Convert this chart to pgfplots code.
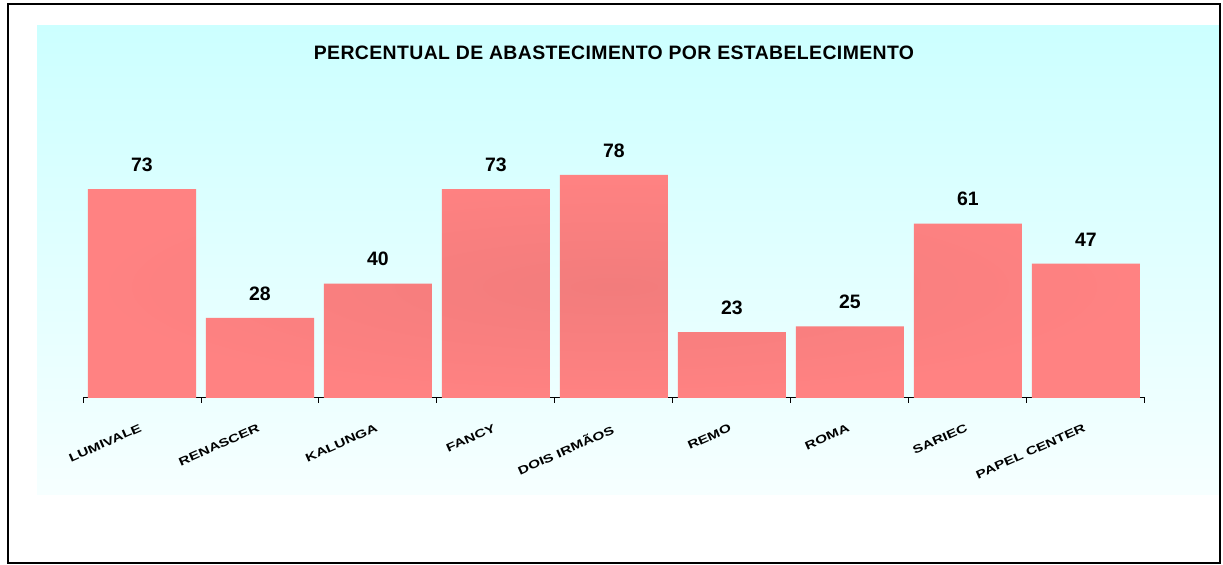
\documentclass[border=0pt]{standalone}
\usepackage{pgfplots}
\pgfplotsset{compat=1.18}
\usepackage{fontspec}
\setmainfont{Liberation Sans}
\definecolor{barfill}{RGB}{255,130,130}
\definecolor{barin}{RGB}{242,124,124}
\definecolor{panTop}{RGB}{204,255,255}
\definecolor{panBot}{RGB}{246,255,255}
\newcommand{\lab}[1]{\scalebox{1.35}[1]{#1}}
\begin{document}
\begin{tikzpicture}[x=1bp,y=1bp]
\useasboundingbox (0,0) rectangle (1223,565);
\fill[white] (0,0) rectangle (1223,565);
\shade[top color=panTop, bottom color=panBot] (37,70) rectangle (1219,539);
\draw[black, line width=2bp] (8,2) rectangle (1220,561);
\node[font=\fontsize{19.5}{21}\selectfont\bfseries\addfontfeatures{LetterSpace=2}] at (614,512) {PERCENTUAL DE ABASTECIMENTO POR ESTABELECIMENTO};
\begin{axis}[
  at={(83bp,167bp)}, anchor=south west,
  scale only axis,
  width=1062bp, height=286bp,
  xmin=-0.5, xmax=8.5, ymin=0, ymax=100,
  axis x line*=bottom, axis y line=none,
  axis line style={-, black, line width=1bp},
  clip=false,
  /pgf/number format/assume math mode=true,
  xtick={0,...,8},
  xticklabels={\lab{LUMIVALE}, \lab{RENASCER}, \lab{KALUNGA}, \lab{FANCY}, \lab{DOIS IRMÃOS}, \lab{REMO}, \lab{ROMA}, \lab{SARIEC}, \lab{PAPEL CENTER}},
  major tick length=0pt,
  xticklabel style={rotate=24, anchor=north east, font=\fontsize{11.5}{12}\selectfont\bfseries, inner sep=1bp, yshift=-21bp, xshift=-12bp},
  extra x ticks={-0.5,0.5,...,8.5},
  extra x tick labels={},
  extra x tick style={major tick length=5bp, tick align=outside, tick style={black, line width=1bp}},
  ybar, bar width=108bp,
  nodes near coords,
  every node near coord/.append style={font=\fontsize{19.5}{21}\selectfont\bfseries, black, yshift=14bp},
]
\addplot[draw=none, shading=radial, inner color=barin, outer color=barfill] coordinates {(0,73) (1,28) (2,40) (3,73) (4,78) (5,23) (6,25) (7,61) (8,47)};
\end{axis}
\end{tikzpicture}
\end{document}
